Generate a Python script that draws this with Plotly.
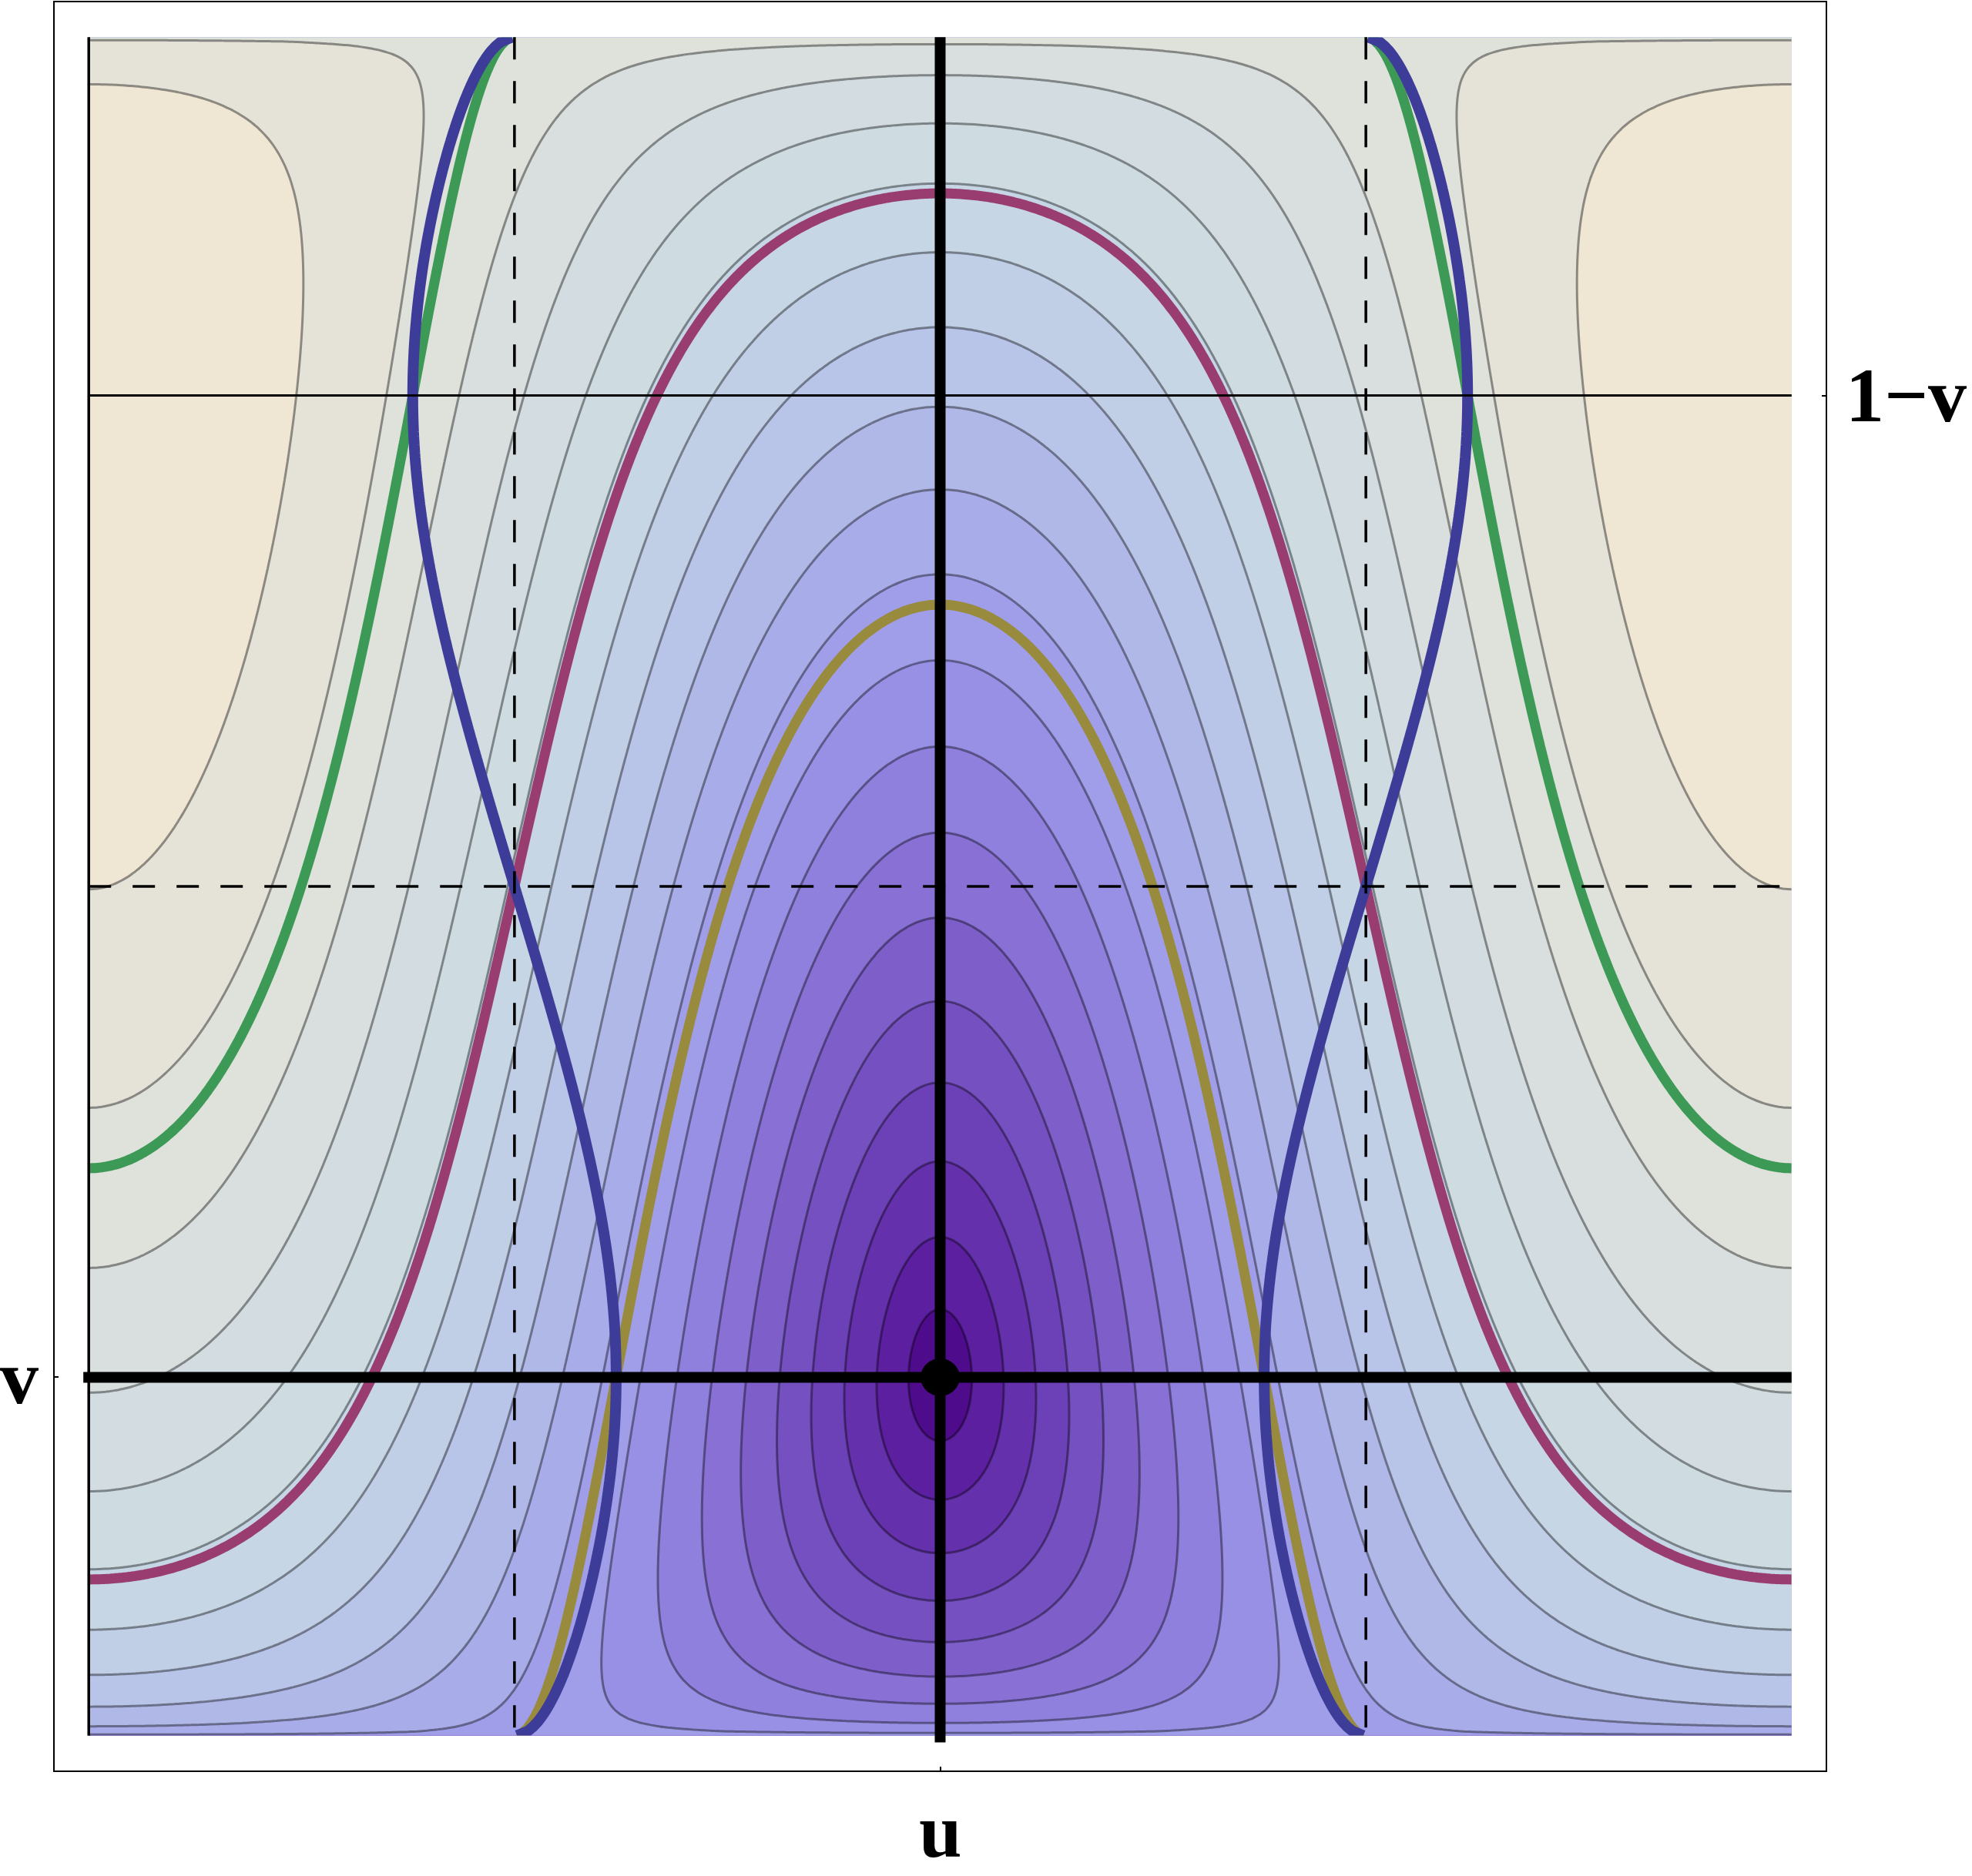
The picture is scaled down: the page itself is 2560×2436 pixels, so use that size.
import numpy as np
import plotly.graph_objects as go

# ---------------- parameters ----------------
v = 0.211                      # latitude of the minimum (label "v"); antipode sits at 1-v
n_levels = 20                  # number of gray contour levels (equally spaced over 0..1)
u_limits = [-np.pi, np.pi]     # horizontal extent
y_limits = [0.0, 1.0]          # vertical extent
dashed_u = [-np.pi / 2, np.pi / 2]
dashed_y = [0.5]
tick_u = [0.0]
tick_u_text = ["u"]
tick_left = [v]
tick_left_text = ["v"]
tick_right = [1 - v]
tick_right_text = ["1\u2212v"]

# band colours (lowest band -> highest band)
band_colors = ["#4e0c8c", "#5b1fa0", "#6430ab", "#6c40b6", "#7550c0", "#7e5fca",
               "#8870d5", "#9080de", "#9890e4", "#a09ee8", "#a8ace8", "#b0b8e8",
               "#b8c4e8", "#c0cee6", "#c6d6e4", "#cedce2", "#d3dde1", "#d9dfde",
               "#dfe1db", "#e5e2d8", "#efe6d4"]
c_blue = "rgb(61,61,153)"
c_mag = "rgb(153,61,113)"
c_olive = "rgb(153,139,61)"
c_green = "rgb(61,153,86)"

# ---------------- field: distance-like function on the sphere ----------------
N = 401
u = np.linspace(u_limits[0], u_limits[1], N)
y = np.linspace(y_limits[0] + 1e-4, y_limits[1] - 1e-4, N)
U, Y = np.meshgrid(u, y)
z = 2 * Y - 1
r = np.sqrt(np.clip(1 - z ** 2, 0, None))
z0 = 2 * v - 1
r0 = np.sqrt(1 - z0 ** 2)
C = np.cos(U)
S2 = np.sin(U) ** 2
cosd = z * z0 + r * r0 * C
D = np.sqrt(np.clip((1 - cosd) / 2, 0, 1)).round(5)
# locus of inflection points of the contours (blue curve)
A = z0 * r - z * r0 * C
G = (-C * A ** 2 + 2 * z * r0 * S2 * A - r0 ** 2 * C * S2).round(8)

special = [(np.sqrt(v), c_olive, 13), (np.sqrt(0.5), c_mag, 13), (np.sqrt(1 - v), c_green, 13)]

step = 1.0 / (n_levels + 1)
colorscale = [[i / n_levels, c] for i, c in enumerate(band_colors)]

fig = go.Figure()
fig.add_trace(go.Contour(
    x=u, y=y, z=D, autocontour=False,
    contours=dict(start=step, end=(n_levels + 0.2) * step, size=step,
                  coloring="fill", showlines=True),
    line=dict(color="rgba(0,0,0,0.40)", width=3, smoothing=1),
    colorscale=colorscale, showscale=False, hoverinfo="skip"))

for lvl, col, w in special:
    fig.add_trace(go.Contour(
        x=u, y=y, z=D, autocontour=False,
        contours=dict(start=lvl, end=lvl, size=1, coloring="none"),
        line=dict(color=col, width=w, smoothing=1),
        showscale=False, hoverinfo="skip"))

fig.add_trace(go.Contour(
    x=u, y=y, z=G, autocontour=False,
    contours=dict(start=0, end=0, size=1, coloring="none"),
    line=dict(color=c_blue, width=14, smoothing=1),
    showscale=False, hoverinfo="skip"))

# thin line at 1-v (carries the right-hand axis)
fig.add_trace(go.Scatter(x=u_limits, y=tick_right * 2, yaxis="y2", mode="lines",
                         line=dict(color="black", width=3), hoverinfo="skip",
                         showlegend=False))

shapes = []
for du in dashed_u:
    shapes.append(dict(type="line", xref="x", yref="y", x0=du, x1=du,
                       y0=y_limits[1], y1=y_limits[0], layer="above",
                       line=dict(color="black", width=3.5, dash="29px,28px")))
for dy in dashed_y:
    shapes.append(dict(type="line", xref="x", yref="y", x0=u_limits[0], x1=u_limits[1],
                       y0=dy, y1=dy, layer="above",
                       line=dict(color="black", width=3.5, dash="29px,28px")))
# left axis line
shapes.append(dict(type="line", xref="x", yref="y", x0=u_limits[0], x1=u_limits[0],
                   y0=y_limits[0], y1=y_limits[1], layer="above",
                   line=dict(color="black", width=3.5)))
# thick cross through the minimum
shapes.append(dict(type="line", xref="x", yref="y", x0=tick_u[0], x1=tick_u[0],
                   y0=y_limits[0] - 0.004, y1=y_limits[1], layer="above",
                   line=dict(color="black", width=14)))
shapes.append(dict(type="line", xref="x", yref="y", x0=u_limits[0] - 0.02, x1=u_limits[1],
                   y0=v, y1=v, layer="above",
                   line=dict(color="black", width=14)))
shapes.append(dict(type="circle", xref="x", yref="y", xsizemode="pixel", ysizemode="pixel",
                   xanchor=tick_u[0], yanchor=v, x0=-25, x1=25, y0=-24, y1=24,
                   fillcolor="black", line=dict(color="black", width=1), layer="above"))

pad_x = 0.02 * (u_limits[1] - u_limits[0])
pad_y = 0.0205 * (y_limits[1] - y_limits[0])
xr = [u_limits[0] - pad_x, u_limits[1] + pad_x]
yr = [y_limits[0] - pad_y, y_limits[1] + pad_y]

lab_font = dict(family="Liberation Serif", size=100, color="black", weight="bold")
annotations = [
    dict(text=tick_u_text[0], x=tick_u[0], xref="x", y=-0.034, yref="paper",
         xanchor="center", yanchor="middle", showarrow=False, font=lab_font),
    dict(text=tick_left_text[0], x=-0.0198, xref="paper", y=tick_left[0], yref="y",
         xanchor="center", yanchor="middle", showarrow=False, font=lab_font),
    dict(text=tick_right_text[0], x=1.0105, xref="paper", y=tick_right[0], yref="y",
         xanchor="left", yanchor="middle", showarrow=False, font=lab_font),
]

axis_common = dict(showgrid=False, zeroline=False, ticks="inside", ticklen=5,
                   tickwidth=1.5, tickcolor="black", showticklabels=False)
fig.update_layout(
    width=2560, height=2436, autosize=False,
    margin=dict(l=71, r=190, t=1, b=137, pad=0),
    paper_bgcolor="white", plot_bgcolor="white",
    showlegend=False,
    xaxis=dict(range=xr, tickvals=tick_u, showline=True, mirror=True,
               linecolor="black", linewidth=2, **axis_common),
    yaxis=dict(range=yr, tickvals=tick_left, showline=True, mirror=True,
               linecolor="black", linewidth=2, **axis_common),
    yaxis2=dict(range=yr, tickvals=tick_right, overlaying="y", side="right",
                showline=False, **axis_common),
    shapes=shapes, annotations=annotations,
)

fig.write_html("out.html", config={"displayModeBar": False},
               post_script="document.body.style.margin='0px';document.body.style.padding='0px';")
